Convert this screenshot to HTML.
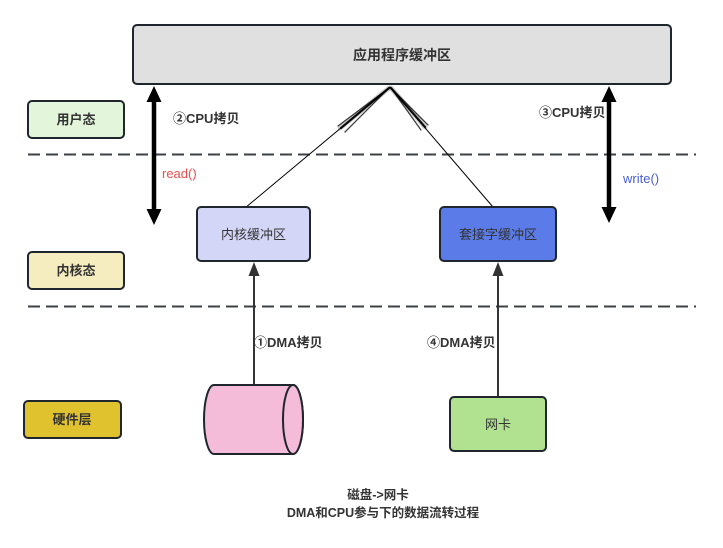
<!DOCTYPE html>
<html>
<head>
<meta charset="utf-8">
<style>
  html, body { margin:0; padding:0; background:#fff; }
  body { width:723px; height:548px; overflow:hidden; }
  svg { display:block; }
  text { font-family: "Liberation Sans", "Noto Sans CJK SC", sans-serif; }
</style>
</head>
<body>
<svg width="723" height="548" viewBox="0 0 723 548" xmlns="http://www.w3.org/2000/svg">
  <rect x="0" y="0" width="723" height="548" fill="#ffffff"/>

  <!-- dashed separators -->
  <line x1="28" y1="154.5" x2="696" y2="154.5" stroke="#3b4046" stroke-width="2" stroke-dasharray="12 6"/>
  <line x1="28" y1="306.5" x2="696" y2="306.5" stroke="#3b4046" stroke-width="2" stroke-dasharray="12 6"/>

  <!-- top app buffer -->
  <rect x="133" y="25" width="538" height="59" rx="4" fill="#e0e0e0" stroke="#1f262d" stroke-width="2"/>
  <text x="402" y="60" font-size="14" font-weight="bold" fill="#333" text-anchor="middle">应用程序缓冲区</text>

  <!-- left state labels -->
  <rect x="28" y="101" width="96" height="37" rx="4" fill="#e3f5da" stroke="#1f262d" stroke-width="2"/>
  <text x="76" y="124" font-size="13" font-weight="bold" fill="#333" text-anchor="middle">用户态</text>

  <rect x="28" y="252" width="96" height="37" rx="4" fill="#f5edc0" stroke="#1f262d" stroke-width="2"/>
  <text x="76" y="275" font-size="13" font-weight="bold" fill="#333" text-anchor="middle">内核态</text>

  <rect x="24" y="401" width="97" height="37" rx="4" fill="#e0c22f" stroke="#1f262d" stroke-width="2"/>
  <text x="72" y="424" font-size="13" font-weight="bold" fill="#333" text-anchor="middle">硬件层</text>

  <!-- connectors from apex -->
  <line x1="390" y1="87" x2="245" y2="208" stroke="#000" stroke-width="1"/>
  <line x1="390" y1="87" x2="493" y2="207" stroke="#000" stroke-width="1"/>
  <!-- sketchy open arrowheads -->
  <g stroke="#000" fill="none" stroke-linecap="round">
    <line x1="389" y1="88" x2="340" y2="128" stroke-width="5" opacity="0.18"/>
    <line x1="389" y1="88" x2="338" y2="126" stroke-width="1.3" opacity="0.75"/>
    <line x1="389" y1="88" x2="345" y2="132" stroke-width="1.3" opacity="0.75"/>
    <line x1="389" y1="88" x2="341" y2="128" stroke-width="2.2" opacity="0.9"/>
    <line x1="391" y1="88" x2="425" y2="127" stroke-width="5" opacity="0.18"/>
    <line x1="391" y1="88" x2="428" y2="125" stroke-width="1.3" opacity="0.75"/>
    <line x1="391" y1="88" x2="421" y2="130" stroke-width="1.3" opacity="0.75"/>
    <line x1="391" y1="88" x2="425" y2="127" stroke-width="2.2" opacity="0.9"/>
  </g>

  <!-- kernel buffer -->
  <rect x="197" y="207" width="113" height="54" rx="4" fill="#d3d6f7" stroke="#1f262d" stroke-width="2"/>
  <text x="253.5" y="239" font-size="13" fill="#333" text-anchor="middle">内核缓冲区</text>

  <!-- socket buffer -->
  <rect x="440" y="207" width="116" height="54" rx="4" fill="#5a7be8" stroke="#1f262d" stroke-width="2"/>
  <text x="498" y="239" font-size="13" fill="#333" text-anchor="middle">套接字缓冲区</text>

  <!-- big double arrows -->
  <line x1="154" y1="100" x2="154" y2="211" stroke="#000" stroke-width="4.5"/>
  <polygon points="154,86 146.5,102 161.5,102" fill="#000"/>
  <polygon points="154,225 146.5,209 161.5,209" fill="#000"/>

  <line x1="609" y1="100" x2="609" y2="209" stroke="#000" stroke-width="4.5"/>
  <polygon points="609,86 601.5,102 616.5,102" fill="#000"/>
  <polygon points="609,223 601.5,207 616.5,207" fill="#000"/>

  <!-- labels -->
  <text x="173" y="123" font-size="13" font-weight="bold" fill="#333">②CPU拷贝</text>
  <text x="539" y="117" font-size="13" font-weight="bold" fill="#333">③CPU拷贝</text>
  <text x="162" y="178" font-size="13" fill="#ea4f4f">read()</text>
  <text x="623" y="183" font-size="13" fill="#4a5fcc">write()</text>

  <!-- DMA arrows -->
  <line x1="254" y1="385" x2="254" y2="275" stroke="#333" stroke-width="2"/>
  <polygon points="254,262 248.5,276 259.5,276" fill="#333"/>
  <line x1="498" y1="397" x2="498" y2="275" stroke="#333" stroke-width="2"/>
  <polygon points="498,262 492.5,276 503.5,276" fill="#333"/>

  <text x="254" y="347" font-size="13" font-weight="bold" fill="#333">①DMA拷贝</text>
  <text x="427" y="347" font-size="13" font-weight="bold" fill="#333">④DMA拷贝</text>

  <!-- disk cylinder -->
  <path d="M214,385 L293,385 A10,34.5 0 0 1 293,454 L214,454 A10,34.5 0 0 1 214,385 Z" fill="#f5bcd9" stroke="#1f262d" stroke-width="2"/>
  <ellipse cx="293" cy="419.5" rx="10" ry="34.5" fill="#f5bcd9" stroke="#1f262d" stroke-width="2"/>

  <!-- NIC -->
  <rect x="450" y="397" width="96" height="54" rx="4" fill="#b0e28f" stroke="#1f262d" stroke-width="2"/>
  <text x="498" y="429" font-size="13" fill="#333" text-anchor="middle">网卡</text>

  <!-- caption -->
  <text x="378" y="499" font-size="12.5" font-weight="bold" fill="#333" text-anchor="middle">磁盘-&gt;网卡</text>
  <text x="383" y="517" font-size="12.5" font-weight="bold" fill="#333" text-anchor="middle">DMA和CPU参与下的数据流转过程</text>
</svg>
</body>
</html>
